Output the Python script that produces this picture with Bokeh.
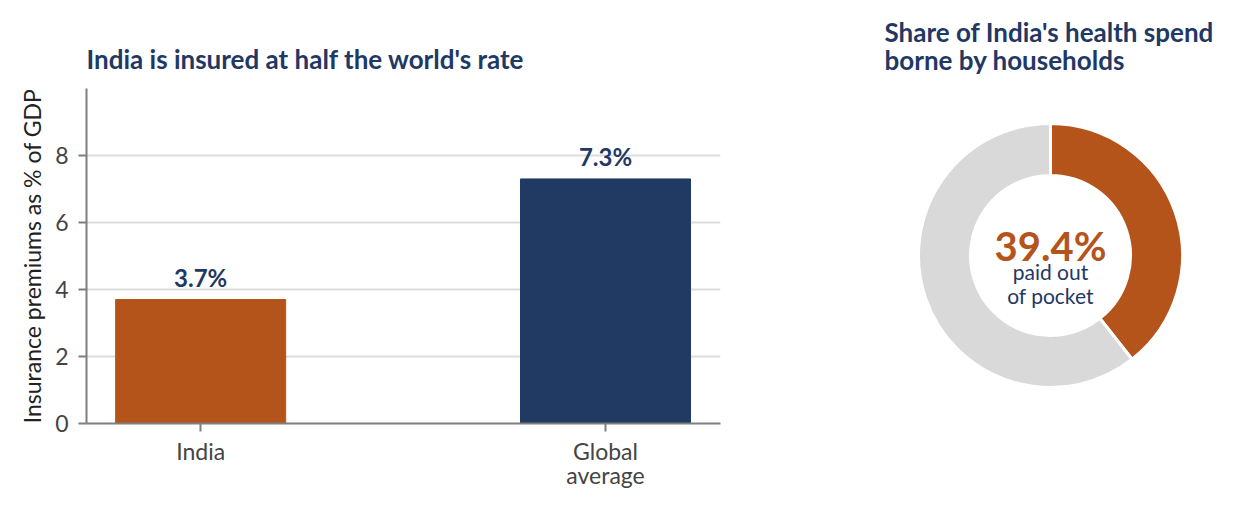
import numpy as np
from bokeh.plotting import figure
from bokeh.layouts import row
from bokeh.models import ColumnDataSource, Range1d, FixedTicker, Label, Title
from bokeh.core.properties import value
from bokeh.embed import file_html
from bokeh.resources import INLINE

# ---------------- data ----------------
countries = ["India", "Global\naverage"]
premiums_pct_gdp = [3.7, 7.3]
bar_colors = ["#b4541b", "#213a64"]

spend_parts = ["Out of pocket", "Other sources"]
spend_share = [39.4, 60.6]
wedge_colors = ["#b4541b", "#d9d9d9"]

NAVY = "#1f3864"
ORANGE = "#b4541b"
FONT = "Lato"


# ---------------- bar chart ----------------
def make_bar_chart():
    xs = list(range(len(countries)))
    src = ColumnDataSource(dict(
        x=xs,
        top=premiums_pct_gdp,
        color=bar_colors,
        label=["%.1f%%" % v for v in premiums_pct_gdp],
    ))

    p = figure(width=760, height=500, output_backend="svg", toolbar_location=None,
               x_range=Range1d(-0.282, 1.284), y_range=Range1d(0, 10),
               min_border_left=86, min_border_right=40,
               min_border_top=88, min_border_bottom=77)
    p.outline_line_color = None

    p.title.text = "India is insured at half the world's rate"
    p.title.align = "left"
    p.title.text_font = FONT
    p.title.text_font_style = "bold"
    p.title.text_font_size = "26px"
    p.title.text_color = NAVY
    p.title.standoff = 27

    p.vbar(x="x", top="top", width=0.42, color="color", source=src)
    p.text(x="x", y="top", text="label", source=src, text_align="center",
           text_baseline="bottom", y_offset=-8, text_font=value(FONT),
           text_font_style="bold", text_font_size="24px", text_color=NAVY)

    # axes
    p.xaxis.ticker = FixedTicker(ticks=xs)
    p.xaxis.major_label_overrides = {i: c for i, c in enumerate(countries)}
    p.xaxis.major_label_text_line_height = 0.87
    p.xaxis.major_label_standoff = 5
    p.yaxis.ticker = FixedTicker(ticks=[0, 2, 4, 6, 8])
    p.yaxis.major_label_standoff = 10
    p.yaxis.axis_label = "Insurance premiums as % of GDP"
    p.yaxis.axis_label_standoff = 6
    p.yaxis.axis_label_text_font = FONT
    p.yaxis.axis_label_text_font_style = "normal"
    p.yaxis.axis_label_text_font_size = "23px"
    p.yaxis.axis_label_text_color = "#222222"
    p.axis.major_label_text_font = FONT
    p.axis.major_label_text_font_size = "23px"
    p.axis.major_label_text_color = "#444444"
    p.axis.axis_line_color = "#7f7f7f"
    p.axis.axis_line_width = 2
    p.axis.major_tick_line_color = "#7f7f7f"
    p.axis.major_tick_line_width = 2
    p.axis.major_tick_out = 8
    p.axis.major_tick_in = 0
    p.axis.minor_tick_line_color = None

    p.xgrid.grid_line_color = None
    p.ygrid.grid_line_color = "#dcdcdc"
    p.ygrid.grid_line_width = 2
    p.ygrid.ticker = FixedTicker(ticks=[2, 4, 6, 8])
    return p


# ---------------- donut ----------------
def make_donut():
    shares = np.array(spend_share) / sum(spend_share)
    ends = np.cumsum(shares)
    starts = ends - shares
    src = ColumnDataSource(dict(
        start=np.pi / 2 - starts * 2 * np.pi,
        end=np.pi / 2 - ends * 2 * np.pi,
        color=wedge_colors,
        part=spend_parts,
    ))

    # frame is 464 x 335 px, ranges in pixels so the ring stays round
    p = figure(width=464, height=500, output_backend="svg", toolbar_location=None,
               x_range=Range1d(0, 464), y_range=Range1d(0, 335),
               min_border_left=0, min_border_right=0,
               min_border_top=88, min_border_bottom=77)
    p.axis.visible = False
    p.grid.visible = False
    p.outline_line_color = None

    p.add_layout(Title(text="Share of India's health spend\nborne by households",
                       align="left", offset=124, text_font=FONT,
                       text_font_style="bold", text_font_size="26px",
                       text_line_height=0.9, text_color=NAVY, standoff=24), "above")

    cx, cy = 290, 168
    p.annular_wedge(x=cx, y=cy, inner_radius=80, outer_radius=132,
                    start_angle="start", end_angle="end", direction="clock",
                    fill_color="color", line_color="white", line_width=3, source=src)

    p.add_layout(Label(x=cx, y=178, text="%.1f%%" % spend_share[0], text_font=FONT,
                       text_font_style="bold", text_font_size="40px", text_color=ORANGE,
                       text_baseline="middle", text_align="center"))
    for txt, y in [("paid out", 152), ("of pocket", 128)]:
        p.add_layout(Label(x=cx, y=y, text=txt, text_font=FONT, text_font_size="21px",
                           text_color=NAVY, text_baseline="middle", text_align="center"))
    return p


layout = row(make_bar_chart(), make_donut())
open("out.html", "w").write(file_html(layout, INLINE))
